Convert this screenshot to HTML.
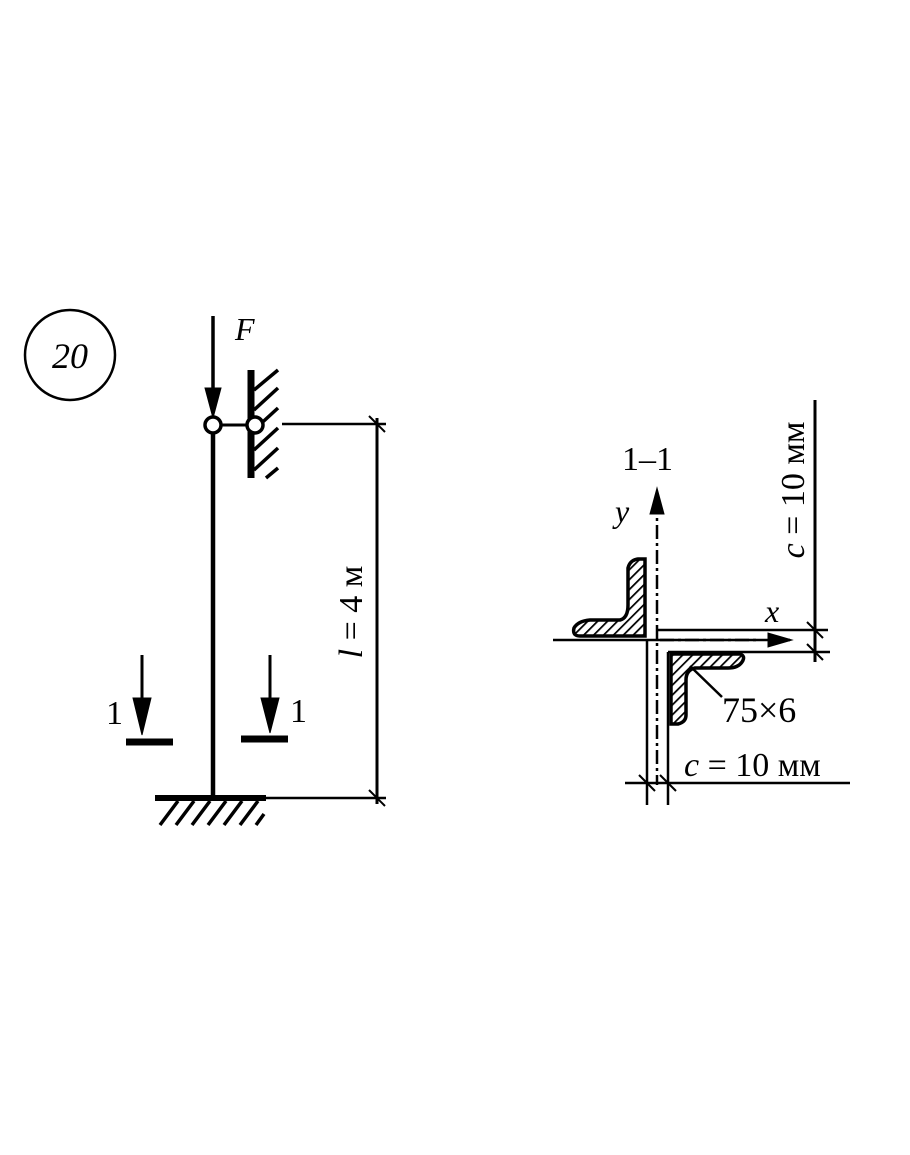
<!DOCTYPE html>
<html><head><style>body{margin:0;background:#fff}svg{display:block}</style></head><body>
<svg width="910" height="1155" viewBox="0 0 910 1155" xmlns="http://www.w3.org/2000/svg">
<defs>
<pattern id="h" patternUnits="userSpaceOnUse" width="7" height="7" patternTransform="rotate(45)"><rect width="7" height="7" fill="#fff"/><line x1="0" y1="0" x2="0" y2="7" stroke="#000" stroke-width="3.5"/></pattern>
</defs>
<g stroke="#000" fill="none" font-family="Liberation Serif, serif">
<circle cx="70" cy="355" r="45" stroke-width="2.5"/>
<text x="70" y="368" font-size="36" font-style="italic" text-anchor="middle" fill="#000" stroke="none">20</text>
<line x1="213" y1="316" x2="213" y2="400" stroke-width="3.5"/>
<polygon points="205,388 221,388 213,418" fill="#000"/>
<text x="235" y="340" font-size="32" font-style="italic" fill="#000" stroke="none">F</text>
<line x1="213" y1="433" x2="213" y2="797" stroke-width="4.5"/>
<line x1="221" y1="425" x2="247" y2="425" stroke-width="3"/>
<line x1="251" y1="370" x2="251" y2="478" stroke-width="7"/>
<g stroke-width="3.5"><line x1="254" y1="390" x2="278" y2="370"/><line x1="254" y1="410" x2="278" y2="388"/><line x1="254" y1="430" x2="278" y2="408"/><line x1="254" y1="450" x2="278" y2="428"/><line x1="254" y1="470" x2="278" y2="448"/><line x1="266" y1="478" x2="278" y2="468"/></g>
<circle cx="213" cy="425" r="8" fill="#fff" stroke-width="3.5"/>
<circle cx="255" cy="425" r="8" fill="#fff" stroke-width="3.5"/>
<line x1="155" y1="798" x2="266" y2="798" stroke-width="6"/>
<g stroke-width="3.5"><line x1="160" y1="825" x2="178" y2="801"/><line x1="176" y1="825" x2="194" y2="801"/><line x1="192" y1="825" x2="210" y2="801"/><line x1="208" y1="825" x2="226" y2="801"/><line x1="224" y1="825" x2="242" y2="801"/><line x1="240" y1="825" x2="258" y2="801"/><line x1="256" y1="825" x2="264" y2="814"/></g>
<line x1="282" y1="424" x2="386" y2="424" stroke-width="2.5"/>
<line x1="266" y1="798" x2="386" y2="798" stroke-width="2.5"/>
<line x1="377" y1="418" x2="377" y2="804" stroke-width="3"/>
<line x1="369" y1="416" x2="385" y2="432" stroke-width="2"/><line x1="369" y1="790" x2="385" y2="806" stroke-width="2"/>
<text transform="translate(362,612) rotate(-90)" font-size="34" text-anchor="middle" fill="#000" stroke="none"><tspan font-style="italic">l</tspan> = 4 м</text>
<line x1="142" y1="655" x2="142" y2="715" stroke-width="3"/>
<polygon points="133,698 151,698 142,735" fill="#000"/>
<line x1="126" y1="742" x2="173" y2="742" stroke-width="7"/>
<text x="106" y="724" font-size="34" fill="#000" stroke="none">1</text>
<line x1="270" y1="655" x2="270" y2="715" stroke-width="3"/>
<polygon points="261,698 279,698 270,733" fill="#000"/>
<line x1="241" y1="739" x2="288" y2="739" stroke-width="7"/>
<text x="290" y="722" font-size="34" fill="#000" stroke="none">1</text>
<text x="622" y="470" font-size="34" fill="#000" stroke="none">1–1</text>
<text x="615" y="522" font-size="32" font-style="italic" fill="#000" stroke="none">y</text>
<line x1="657" y1="500" x2="657" y2="785" stroke-width="2.5" stroke-dasharray="14,4,3,4"/>
<polygon points="650,514 664,514 657,488" fill="#000"/>
<line x1="553" y1="640" x2="760" y2="640" stroke-width="2.5"/>
<line x1="660" y1="640" x2="790" y2="640" stroke-width="2.5" stroke-dasharray="14,4,3,4"/>
<polygon points="768,633 768,647 792,640" fill="#000"/>
<text x="765" y="622" font-size="32" font-style="italic" fill="#000" stroke="none">x</text>
<line x1="657" y1="630" x2="828" y2="630" stroke-width="2.5"/>
<line x1="668" y1="652" x2="830" y2="652" stroke-width="2.5"/>
<line x1="647" y1="640" x2="647" y2="805" stroke-width="2.5"/>
<line x1="668" y1="652" x2="668" y2="805" stroke-width="2.5"/>
<line x1="625" y1="783" x2="850" y2="783" stroke-width="2.5"/>
<line x1="815" y1="400" x2="815" y2="662" stroke-width="3"/>
<line x1="807" y1="622" x2="823" y2="638" stroke-width="2"/><line x1="807" y1="644" x2="823" y2="660" stroke-width="2"/>
<line x1="639" y1="775" x2="655" y2="791" stroke-width="2"/><line x1="660" y1="775" x2="676" y2="791" stroke-width="2"/>
<text transform="translate(804,490) rotate(-90)" font-size="34" text-anchor="middle" fill="#000" stroke="none"><tspan font-style="italic">c</tspan> = 10 мм</text>
<path d="M628,568 Q630,560 638,559 L645,559 L645,636 L580,636 Q572,636 574,628 Q578,621 590,620 L620,620 Q628,618 628,605 Z" fill="url(#h)" stroke-width="3.5"/>
<path d="M671,654 L740,654 Q746,656 742,662 Q738,668 728,668 L695,668 Q686,670 686,680 L686,715 Q686,722 678,724 L671,724 Z" fill="url(#h)" stroke-width="3.5"/>
<line x1="690" y1="666" x2="722" y2="697" stroke-width="2.5"/>
<text x="722" y="722" font-size="36" fill="#000" stroke="none">75×6</text>
<text x="684" y="776" font-size="34" fill="#000" stroke="none"><tspan font-style="italic">c</tspan> = 10 мм</text>
</g>
</svg>
</body></html>
